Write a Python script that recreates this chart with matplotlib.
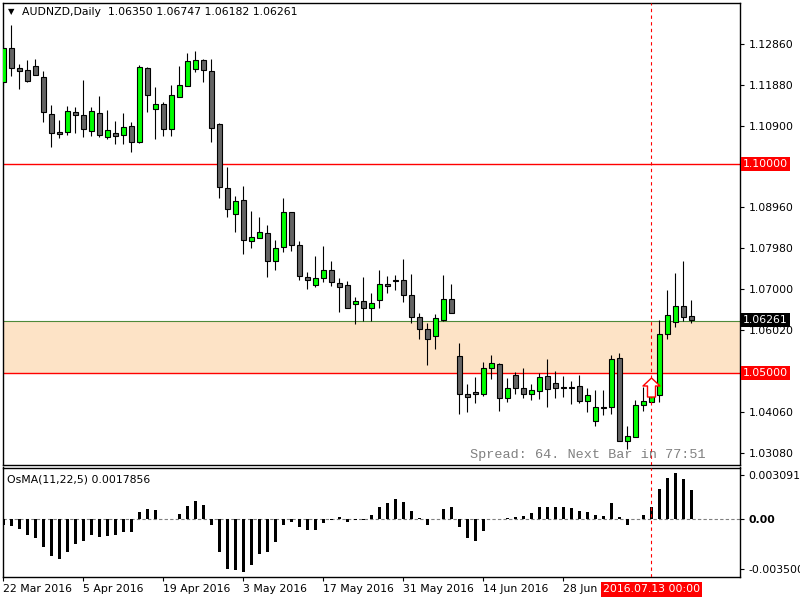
import numpy as np
import matplotlib
matplotlib.use("Agg")
import matplotlib.pyplot as plt
from matplotlib.path import Path

plt.rcParams["font.family"] = ["DejaVu Sans"]

# AUDNZD daily, 87 bars (22 Mar 2016 .. 14 Jul 2016)
opens = [1.11945, 1.12772, 1.12279, 1.12231, 1.12327, 1.12064, 1.11180, 1.10750, 1.10750, 1.11228,
         1.11156, 1.10774, 1.11204, 1.10630, 1.10726, 1.10678, 1.10893, 1.10511, 1.12279, 1.11299,
         1.11419, 1.10821, 1.11600, 1.11849, 1.12255, 1.12470, 1.12215, 1.10941, 1.09411, 1.08790,
         1.09124, 1.08145, 1.08231, 1.08336, 1.07681, 1.08001, 1.08838, 1.08049, 1.07284, 1.07093,
         1.07260, 1.07451, 1.07140, 1.07093, 1.06639, 1.06711, 1.06543, 1.06735, 1.07117, 1.07212,
         1.07212, 1.06854, 1.06328, 1.06042, 1.05888, 1.06264, 1.06758, 1.05396, 1.04488, 1.04535,
         1.04502, 1.05124, 1.05205, 1.04407, 1.04942, 1.04631, 1.04488, 1.04560, 1.04918, 1.04751,
         1.04655, 1.04655, 1.04679, 1.04320, 1.03843, 1.04177, 1.04177, 1.05348, 1.03365, 1.03460,
         1.04225, 1.04296, 1.04464, 1.05922, 1.06209, 1.06591, 1.06350]
highs = [1.12956, 1.13314, 1.12375, 1.12470, 1.12494, 1.12215, 1.11395, 1.11044, 1.11378, 1.11347,
         1.12000, 1.11362, 1.11617, 1.11283, 1.11013, 1.11204, 1.11003, 1.12358, 1.12303, 1.11825,
         1.11474, 1.11873, 1.12334, 1.12638, 1.12693, 1.12494, 1.12494, 1.10960, 1.09913, 1.09227,
         1.09466, 1.08869, 1.08725, 1.08534, 1.08176, 1.09172, 1.08838, 1.08145, 1.07404, 1.07793,
         1.08025, 1.07667, 1.07275, 1.07188, 1.06803, 1.07291, 1.06902, 1.07459, 1.07308, 1.07332,
         1.07714, 1.07356, 1.06424, 1.06185, 1.06400, 1.07332, 1.07117, 1.05707, 1.04727, 1.04894,
         1.05253, 1.05420, 1.05229, 1.04871, 1.05013, 1.05109, 1.04727, 1.04990, 1.05324, 1.05045,
         1.04918, 1.04798, 1.04942, 1.04631, 1.04583, 1.04583, 1.05420, 1.05468, 1.03723, 1.04352,
         1.04655, 1.04600, 1.06275, 1.06981, 1.07387, 1.07674, 1.06747]
lows = [1.11863, 1.12095, 1.11785, 1.11945, 1.12112, 1.11003, 1.10405, 1.10606, 1.10685, 1.10726,
        1.10645, 1.10661, 1.10630, 1.10582, 1.10470, 1.10470, 1.10286, 1.10490, 1.11228, 1.10582,
        1.10661, 1.10661, 1.11586, 1.11849, 1.12191, 1.11959, 1.10525, 1.09187, 1.08732, 1.08374,
        1.07848, 1.07992, 1.08231, 1.07299, 1.07466, 1.07882, 1.07920, 1.07213, 1.07012, 1.07059,
        1.07179, 1.07083, 1.06462, 1.06543, 1.06161, 1.06240, 1.06240, 1.06557, 1.06902, 1.06973,
        1.06701, 1.06200, 1.05817, 1.05188, 1.05571, 1.06240, 1.06424, 1.04024, 1.04072, 1.04280,
        1.04447, 1.04846, 1.04096, 1.04311, 1.04495, 1.04392, 1.04359, 1.04383, 1.04191, 1.04407,
        1.04431, 1.04263, 1.04288, 1.04072, 1.03737, 1.03998, 1.04024, 1.03365, 1.03173, 1.03460,
        1.04089, 1.04296, 1.04296, 1.05803, 1.06089, 1.06233, 1.06182]
closes = [1.12772, 1.12279, 1.12222, 1.11969, 1.12112, 1.11228, 1.10726, 1.10716, 1.11252, 1.11170,
          1.10821, 1.11252, 1.10678, 1.10798, 1.10654, 1.10876, 1.10511, 1.12303, 1.11634, 1.11419,
          1.10821, 1.11634, 1.11873, 1.12447, 1.12470, 1.12231, 1.10845, 1.09435, 1.08909, 1.09115,
          1.08168, 1.08240, 1.08360, 1.07667, 1.07977, 1.08838, 1.08049, 1.07308, 1.07227, 1.07260,
          1.07451, 1.07164, 1.07059, 1.06543, 1.06711, 1.06543, 1.06663, 1.07117, 1.07069, 1.07188,
          1.06854, 1.06328, 1.06056, 1.05803, 1.06304, 1.06758, 1.06438, 1.04502, 1.04431, 1.04502,
          1.05109, 1.05229, 1.04407, 1.04631, 1.04631, 1.04488, 1.04584, 1.04909, 1.04608, 1.04631,
          1.04631, 1.04650, 1.04320, 1.04464, 1.04177, 1.04170, 1.05324, 1.03365, 1.03484, 1.04225,
          1.04320, 1.04464, 1.05922, 1.06376, 1.06591, 1.06328, 1.06261]
osma = [-0.00040, -0.00047, -0.00068, -0.00110, -0.00128, -0.00190, -0.00254, -0.00275, -0.00226, -0.00170,
        -0.00149, -0.00107, -0.00123, -0.00114, -0.00107, -0.00086, -0.00086, 0.00051, 0.00072, 0.00065,
        0.00002, 0.00002, 0.00037, 0.00093, 0.00128, 0.00103, -0.00037, -0.00226, -0.00347, -0.00352,
        -0.00366, -0.00317, -0.00240, -0.00226, -0.00156, -0.00037, -0.00016, -0.00051, -0.00075, -0.00075,
        -0.00023, -0.00002, 0.00014, -0.00016, -0.00007, -0.00005, 0.00030, 0.00086, 0.00114, 0.00142,
        0.00121, 0.00058, 0.00012, -0.00040, 0.00002, 0.00072, 0.00086, -0.00051, -0.00128, -0.00149,
        -0.00082, 0.00002, 0.00000, 0.00009, 0.00019, 0.00023, 0.00044, 0.00086, 0.00086, 0.00086,
        0.00086, 0.00077, 0.00056, 0.00049, 0.00028, 0.00023, 0.00114, 0.00014, -0.00037, 0.00000,
        0.00030, 0.00086, 0.00212, 0.00289, 0.00324, 0.00282, 0.00205]

price_ticks = [1.12860, 1.11880, 1.10900, 1.08960, 1.07980, 1.07000, 1.06020, 1.04060, 1.03080]
date_ticks = [0, 10, 20, 30, 40, 50, 60, 70]
date_labels = ["22 Mar 2016", "5 Apr 2016", "19 Apr 2016", "3 May 2016", "17 May 2016",
               "31 May 2016", "14 Jun 2016", "28 Jun 2016"]
level_lines = [1.10000, 1.05000]
zone = (1.05000, 1.06240)
bid = 1.06261
cursor_bar = 81
cursor_label = "2016.07.13 00:00"
arrow_bar, arrow_price = 81, 1.04670
osma_ticks = [0.0030918, 0.0, -0.0035]
osma_labels = ["0.0030918", "0.00", "-0.003500"]

x = np.arange(len(opens))
o, h, l, c = map(np.array, (opens, highs, lows, closes))
bull = c > o

W, H = 800, 600
fig = plt.figure(figsize=(8, 6), dpi=100)
ax = fig.add_axes([2.7 / W, 1 - 465 / H, 737.3 / W, 462.3 / H])
ax2 = fig.add_axes([2.7 / W, 23 / H, 737.3 / W, 109.5 / H])
fs = 7.8

# ---- price panel
ax.axhspan(*zone, color="#fde3c6", lw=0, zorder=0)
ax.axhline(zone[1], color="#4f8a3a", lw=0.8, zorder=1)
for lv in level_lines:
    ax.axhline(lv, color="red", lw=1, zorder=1)
ax.vlines(x, l, h, color="black", lw=0.8, zorder=2)
ax.bar(x, np.maximum(np.abs(c - o), 1e-6), bottom=np.minimum(o, c), width=0.62,
       color=np.where(bull, "#00ff00", "#646464"), edgecolor="black", lw=0.8, zorder=3)
ax.axvline(cursor_bar, color="red", ls=(0, (3, 3)), lw=0.8, zorder=4)

# hollow up-arrow object
arrow = Path([(0, 9.5), (8.5, 1.5), (4, 1.5), (4, -9.5), (-4, -9.5), (-4, 1.5), (-8.5, 1.5), (0, 9.5)],
             closed=True)
ax.plot(arrow_bar, arrow_price, marker=arrow, ms=13.7, mfc="white", mec="red", mew=1, zorder=5)

ax.set_xlim(-0.075, 92.09)
ax.set_ylim(1.02798, 1.13847)
ax.set_xticks([])
ax.yaxis.tick_right()
ax.set_yticks(price_ticks)
ax.set_yticklabels([f"{v:.5f}" for v in price_ticks])
ax.tick_params(axis="y", length=3, width=0.8, pad=3, labelsize=fs)
for s in ax.spines.values():
    s.set_linewidth(1)

for lv, fc in [(level_lines[0], "red"), (bid, "black"), (level_lines[1], "red")]:
    ax.annotate(f"{lv:.5f}", xy=(1, lv), xycoords=("axes fraction", "data"), xytext=(2.2, 0),
                textcoords="offset points", ha="left", va="center", color="white", fontsize=fs,
                bbox=dict(boxstyle="square,pad=0.18", fc=fc, ec="none"), annotation_clip=False, zorder=6)

fig.text(8 / W, 1 - 12 / H, "\u25bc", fontsize=6, va="center", ha="left")
fig.text(22 / W, 1 - 12 / H, "AUDNZD,Daily  1.06350 1.06747 1.06182 1.06261", fontsize=fs,
         va="center", ha="left")
fig.text(470 / W, 1 - 455 / H, "Spread: 64. Next Bar in 77:51", family="Liberation Mono",
         fontsize=9.7, color="#808080", va="center", ha="left")

# ---- OsMA panel
ax2.axhline(0, color="#808080", ls=(0, (3, 2)), lw=0.8, zorder=1)
ax2.bar(x, osma, width=0.38, color="black", zorder=2)
ax2.axvline(cursor_bar, color="red", ls=(0, (3, 3)), lw=0.8, zorder=4)
ax2.set_xlim(-0.075, 92.09)
ax2.set_ylim(-0.00403, 0.00362)
ax2.yaxis.tick_right()
ax2.set_yticks(osma_ticks)
ax2.set_yticklabels(osma_labels)
ax2.tick_params(axis="y", length=3, width=0.8, pad=3, labelsize=fs)
ax2.get_yticklabels()[1].set_fontweight("bold")
ax2.set_xticks(date_ticks)
ax2.set_xticklabels(date_labels, ha="left")
ax2.tick_params(axis="x", length=3, width=0.8, pad=2, labelsize=fs)
for s in ax2.spines.values():
    s.set_linewidth(1)
fig.text(7 / W, 1 - 479 / H, "OsMA(11,22,5) 0.0017856", fontsize=fs, va="center", ha="left")
ax2.annotate(cursor_label, xy=(cursor_bar, 0), xycoords=("data", "axes fraction"), xytext=(0, -9),
             textcoords="offset points", ha="center", va="center", color="white", fontsize=fs,
             bbox=dict(boxstyle="square,pad=0.2", fc="red", ec="none"), annotation_clip=False, zorder=6)

fig.savefig("out.png", dpi=100)
